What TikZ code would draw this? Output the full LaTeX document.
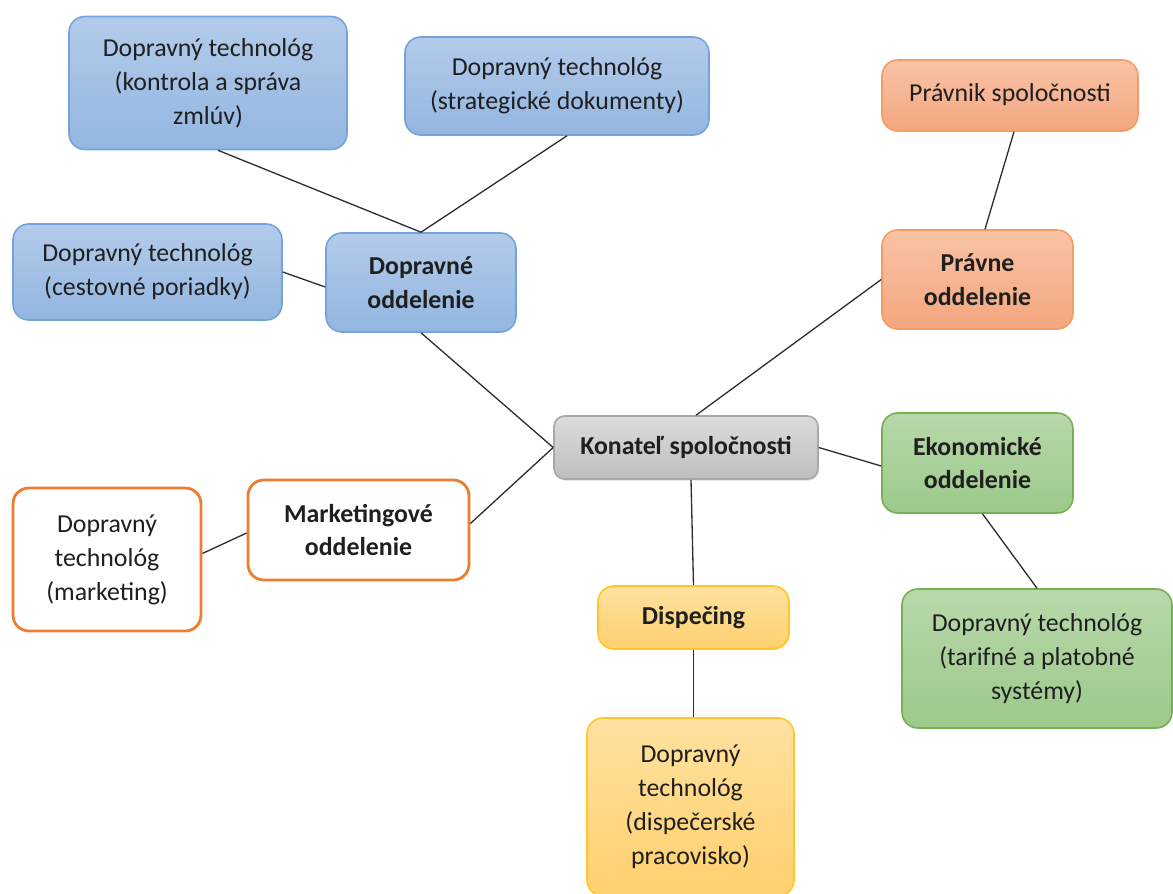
\documentclass[tikz,border=0pt]{standalone}
\usepackage{fontspec}
\setmainfont{Carlito}
\usetikzlibrary{shadows}
\definecolor{blueTop}{HTML}{B3CBEA}
\definecolor{blueBot}{HTML}{93B6E0}
\definecolor{blueLine}{HTML}{74A3D9}
\definecolor{orangeTop}{HTML}{F8C3A6}
\definecolor{orangeBot}{HTML}{F4A67F}
\definecolor{orangeLine}{HTML}{ED7D31}
\definecolor{greenTop}{HTML}{B8D8AA}
\definecolor{greenBot}{HTML}{9CC98A}
\definecolor{greenLine}{HTML}{76B052}
\definecolor{yellowTop}{HTML}{FFE1A0}
\definecolor{yellowBot}{HTML}{FFD06E}
\definecolor{yellowLine}{HTML}{FFC62A}
\definecolor{grayTop}{HTML}{DCDCDC}
\definecolor{grayBot}{HTML}{BEBEBE}
\definecolor{grayLine}{HTML}{A8A8A8}
\tikzset{
    %Define style for boxes
    box/.style={
           rectangle,
           rounded corners=9pt,
           line width=0.9pt,
           align=center,
           inner sep=0pt,
           text=black!88,
           font=\fontsize{14.7}{19.3}\selectfont},
    bluebox/.style={box, draw=blueLine, top color=blueTop, bottom color=blueBot},
    orangebox/.style={box, draw=orangeLine!75, top color=orangeTop, bottom color=orangeBot},
    greenbox/.style={box, draw=greenLine, top color=greenTop, bottom color=greenBot},
    yellowbox/.style={box, draw=yellowLine, top color=yellowTop, bottom color=yellowBot},
    graybox/.style={box, rounded corners=6pt, draw=grayLine, top color=grayTop, bottom color=grayBot,
           drop shadow={shadow xshift=0.6pt, shadow yshift=-0.9pt, opacity=0.25}},
    mktbox/.style={box, draw=orangeLine, line width=1.6pt, fill=white},
    % Define line style
    link/.style={
           -,
           line width=0.75pt,
           draw=black!82}
}

\begin{document}
\begin{tikzpicture}
 \useasboundingbox (0,0) rectangle (23.46,-17.86);
 %nodes
    \node[bluebox, minimum width=5.56cm, minimum height=2.66cm] (kontrola) at (4.16,-1.66)
        {Dopravný technológ\\(kontrola a správa\\zmlúv)};
    \node[bluebox, minimum width=6.08cm, minimum height=1.96cm] (strateg) at (11.14,-1.72)
        {Dopravný technológ\\(strategické dokumenty)};
    \node[bluebox, minimum width=5.38cm, minimum height=1.92cm] (cestovne) at (2.95,-5.44)
        {Dopravný technológ\\(cestovné poriadky)};
    \node[bluebox, minimum width=3.80cm, minimum height=1.98cm] (doprava) at (8.42,-5.65)
        {\bfseries Dopravné\\\bfseries oddelenie};
    \node[orangebox, minimum width=5.12cm, minimum height=1.42cm] (pravnik) at (20.20,-1.91)
        {\raisebox{0.12cm}{Právnik spoločnosti}};
    \node[orangebox, minimum width=3.82cm, minimum height=1.98cm] (pravne) at (19.55,-5.59)
        {\bfseries Právne\\\bfseries oddelenie};
    \node[graybox, minimum width=5.28cm, minimum height=1.26cm] (konatel) at (13.72,-8.95)
        {\bfseries Konateľ spoločnosti};
    \node[greenbox, minimum width=3.82cm, minimum height=2.00cm] (ekonom) at (19.55,-9.26)
        {\bfseries Ekonomické\\\bfseries oddelenie};
    \node[greenbox, minimum width=5.40cm, minimum height=2.78cm] (tarif) at (20.74,-13.17)
        {Dopravný technológ\\(tarifné a platobné\\systémy)};
    \node[mktbox, minimum width=4.42cm, minimum height=2.00cm] (market) at (7.17,-10.60)
        {\bfseries Marketingové\\\bfseries oddelenie};
    \node[mktbox, minimum width=3.76cm, minimum height=2.86cm] (mkttech) at (2.14,-11.19)
        {Dopravný\\technológ\\(marketing)};
    \node[yellowbox, minimum width=3.82cm, minimum height=1.26cm] (dispecing) at (13.87,-12.35)
        {\bfseries Dispečing};
    \node[yellowbox, minimum width=4.14cm, minimum height=3.56cm] (dispecer) at (13.81,-16.14)
        {Dopravný\\technológ\\(dispečerské\\pracovisko)};
 %edges
    \draw[link] ([xshift=0.2cm]kontrola.south) -- (doprava.north);
    \draw[link] ([xshift=0.2cm]strateg.south) -- (doprava.north);
    \draw[link] (cestovne.east) -- ([yshift=-0.09cm]doprava.west);
    \draw[link] (doprava.south) -- (konatel.west);
    \draw[link] ([yshift=0.13cm]market.east) -- (konatel.west);
    \draw[link] ([yshift=0.12cm]mkttech.east) -- ([yshift=-0.06cm]market.west);
    \draw[link] ([xshift=0.2cm]konatel.north) -- (pravne.west);
    \draw[link] ([xshift=0.08cm]pravnik.south) -- ([xshift=0.15cm]pravne.north);
    \draw[link] (konatel.east) -- ([yshift=-0.06cm]ekonom.west);
    \draw[link] ([xshift=0.1cm]ekonom.south) -- (tarif.north);
    \draw[link] ([xshift=0.1cm]konatel.south) -- (dispecing.north);
    \draw[link] (dispecing.south) -- (dispecing.south |- dispecer.north);
\end{tikzpicture}
\end{document}
